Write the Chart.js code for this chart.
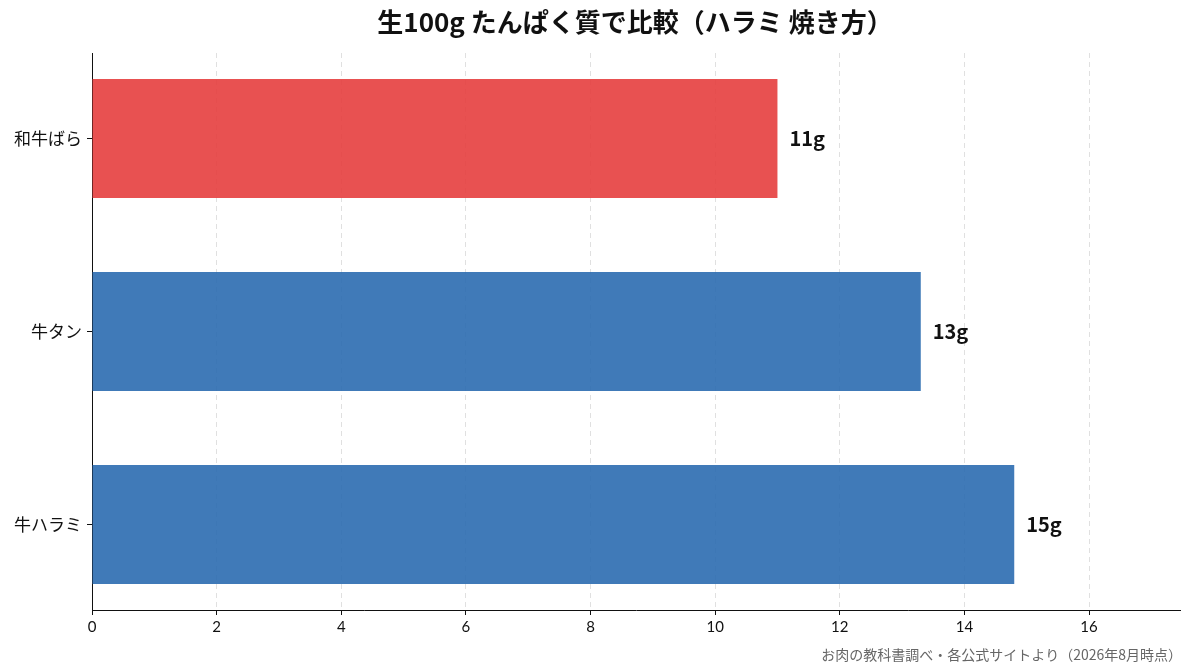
<!DOCTYPE html>
<html>
<head>
<meta charset="utf-8">
<script src="https://cdn.jsdelivr.net/npm/chart.js@4.4.1/dist/chart.umd.min.js"></script>
<style>
  html, body { margin: 0; padding: 0; background: #fff; }
  #wrap { width: 1193px; height: 672px; }
</style>
</head>
<body>
<div id="wrap"><canvas id="chart_div"></canvas></div>
<script>
const FONT = '"Noto Sans CJK JP", "Noto Sans", sans-serif';

const categories = ['和牛ばら', '牛タン', '牛ハラミ'];
const proteinValues = [11, 13.3, 14.8];
const valueLabels = ['11g', '13g', '15g'];
const barColors = ['rgba(229, 62, 62, 0.9)', 'rgba(43, 108, 176, 0.9)', 'rgba(43, 108, 176, 0.9)'];
const xTicks = [0, 2, 4, 6, 8, 10, 12, 14, 16];
const titleText = '生100g たんぱく質で比較（ハラミ 焼き方）';
const sourceText = 'お肉の教科書調べ・各公式サイトより（2026年8月時点）';

const points = proteinValues.map((v, i) => ({ x: v, y: i }));

// title, source note and value labels next to the bars
const textPlugin = {
    id: 'texts',
    afterDatasetsDraw(chart) {
        const c = chart.ctx;
        const meta = chart.getDatasetMeta(0);
        c.save();
        c.fillStyle = '#111';
        c.font = 'bold 20px ' + FONT;
        c.textBaseline = 'middle';
        c.textAlign = 'left';
        meta.data.forEach((bar, i) => {
            c.fillText(valueLabels[i], bar.x + 12, bar.y);
        });
        c.restore();
    },
    afterDraw(chart) {
        const c = chart.ctx;
        c.save();
        c.fillStyle = '#111';
        c.font = 'bold 26px ' + FONT;
        c.textAlign = 'center';
        c.textBaseline = 'middle';
        c.fillText(titleText, 635, 22);
        c.fillStyle = '#666';
        c.font = '14px ' + FONT;
        c.textAlign = 'right';
        c.fillText(sourceText, 1182, 655);
        c.restore();
    }
};

new Chart(document.getElementById('chart_div'), {
    type: 'bar',
    data: {
        datasets: [{
            data: points,
            backgroundColor: barColors,
            borderColor: barColors,
            borderWidth: 0,
            barPercentage: 0.617,
            categoryPercentage: 1
        }]
    },
    plugins: [textPlugin],
    options: {
        indexAxis: 'y',
        responsive: true,
        maintainAspectRatio: false,
        animation: false,
        layout: { padding: { top: 53, right: 13, bottom: 32, left: 0 } },
        plugins: {
            legend: { display: false },
            tooltip: { enabled: false },
            title: { display: false }
        },
        scales: {
            x: {
                type: 'linear',
                min: 0,
                max: 17.46,
                afterBuildTicks: s => { s.ticks = xTicks.map(v => ({ value: v })); },
                afterFit: s => { s.height = 30; },
                ticks: {
                    includeBounds: false,
                    color: '#111',
                    padding: 3,
                    font: { family: 'Lato, ' + FONT, size: 15 }
                },
                grid: {
                    color: 'rgba(0,0,0,0.12)',
                    lineWidth: 1,
                    tickColor: '#111',
                    tickLength: 5,
                    drawTicks: true
                },
                border: { display: true, color: '#111', width: 1, dash: [5, 4] }
            },
            y: {
                type: 'linear',
                reverse: true,
                offset: false,
                min: -0.443,
                max: 2.443,
                afterBuildTicks: s => { s.ticks = categories.map((c, i) => ({ value: i })); },
                afterFit: s => { s.width = 92; },
                ticks: {
                    includeBounds: false,
                    color: '#111',
                    padding: 5,
                    font: { family: FONT, size: 17 },
                    callback: v => categories[v]
                },
                grid: {
                    offset: false,
                    drawOnChartArea: false,
                    tickColor: '#111',
                    tickLength: 5
                },
                border: { display: true, color: '#111', width: 1 }
            }
        }
    }
});
</script>
</body>
</html>
